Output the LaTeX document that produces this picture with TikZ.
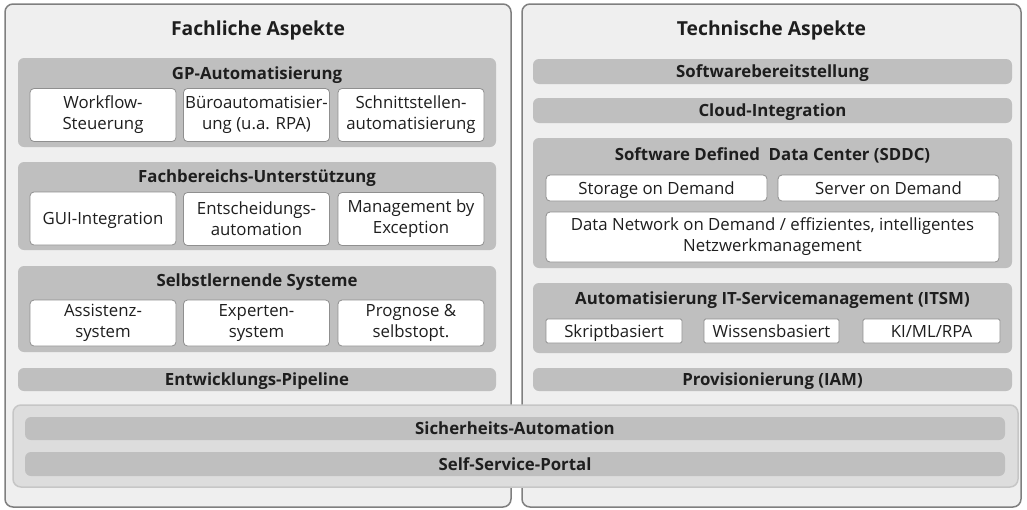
\documentclass[tikz,border=0pt]{standalone}
\usepackage{fontspec}
\setmainfont{Open Sans}
\usetikzlibrary{positioning}

\definecolor{panelbg}{HTML}{EFEFEF}
\definecolor{panelline}{HTML}{7F7F7F}
\definecolor{grpbg}{HTML}{BFBFBF}
\definecolor{itemline}{HTML}{8F8F8F}
\definecolor{commonbg}{HTML}{DDDDDD}
\definecolor{commonline}{HTML}{C6C6C6}
\definecolor{txt}{HTML}{1E1E1E}

\begin{document}
\begin{tikzpicture}[x=1pt,y=-1pt,text=txt,
    panel/.style={draw=panelline, line width=1.5pt, fill=panelbg, rounded corners=8pt, inner sep=0pt},
    grp/.style={fill=grpbg, rounded corners=6pt, inner sep=0pt},
    oneline/.style={text height=12pt, text depth=0pt},
    bar/.style={grp, oneline, font=\fontsize{16.8}{20}\selectfont\bfseries},
    head/.style={inner sep=0pt, font=\fontsize{16.8}{20}\selectfont\bfseries},
    title/.style={inner sep=0pt, font=\fontsize{19.3}{23}\selectfont\bfseries},
    item/.style={draw=itemline, line width=0.8pt, fill=white, rounded corners=4pt, inner sep=0pt,
                 align=center, font=\fontsize{16.8}{21}\selectfont}]
  \useasboundingbox (0,0) rectangle (1027,509);

  % two columns
  \node[panel, minimum width=506, minimum height=503] (left) at (258,255.5) {};
  \node[panel, minimum width=499, minimum height=503] (right) at (771.5,255.5) {};
  \node[title] (ltitle) at (258,30) {Fachliche Aspekte};
  \node[title] (rtitle) at (771.5,30) {Technische Aspekte};

  % Fachliche Aspekte
  \node[grp, minimum width=478, minimum height=89] (gp) at (257,102.5) {};
  \node[head] (gph) at (257,75) {GP-Automatisierung};
  \foreach \x/\n/\t in {103/wf/{Workflow-\\Steuerung}, 256.5/buero/{Büroautomatisier-\\ung (u.a. RPA)}, 411/schnitt/{Schnittstellen-\\automatisierung}}
    {\node[item, minimum width=146, minimum height=53] (\n) at (\x,115) {\t};}

  \node[grp, minimum width=478, minimum height=88] (fb) at (257,206) {};
  \node[head] (fbh) at (257,178) {Fachbereichs-Unterstützung};
  \node[item, oneline, minimum width=146, minimum height=53] (gui) at (103,218.5) {GUI-Integration};
  \foreach \x/\n/\t in {256.5/ents/{Entscheidungs-\\automation}, 411/mbe/{Management by\\Exception}}
    {\node[item, minimum width=146, minimum height=53] (\n) at (\x,219) {\t};}

  \node[grp, minimum width=478, minimum height=86] (sl) at (257,309) {};
  \node[head] (slh) at (257,282) {Selbstlernende Systeme};
  \foreach \x/\n/\t in {103/assi/{Assistenz-\\system}, 256.5/expe/{Experten-\\system}, 411/prog/{Prognose \&\\selbstopt.}}
    {\node[item, minimum width=146, minimum height=46] (\n) at (\x,323) {\t};}

  \node[bar, minimum width=478, minimum height=23] (pipe) at (257,379.5) {Entwicklungs-Pipeline};

  % Technische Aspekte
  \node[bar, minimum width=479, minimum height=25] (swb) at (772.5,71.5) {Softwarebereitstellung};
  \node[bar, minimum width=479, minimum height=25] (cloud) at (772.5,110.5) {Cloud-Integration};

  \node[grp, minimum width=479, minimum height=130] (sddc) at (772.5,203) {};
  \node[head] (sddch) at (772.5,155) {Software Defined\ \ Data Center (SDDC)};
  \node[item, oneline, minimum width=221, minimum height=26] (stor) at (656.5,188) {Storage on Demand};
  \node[item, oneline, minimum width=221, minimum height=26] (serv) at (888.5,188) {Server on Demand};
  \node[item, minimum width=453, minimum height=50] (dnet) at (772.5,237) {Data Network on Demand / effizientes, intelligentes\\Netzwerkmanagement};

  \node[grp, minimum width=479, minimum height=70] (itsm) at (772.5,318) {};
  \node[head] (itsmh) at (772.5,300) {Automatisierung IT-Servicemanagement (ITSM)};
  \foreach \x/\w/\n/\t in {614/136/skript/Skriptbasiert, 771.5/135/wissen/Wissensbasiert, 931.5/137/ki/{KI/ML/RPA}}
    {\node[item, oneline, rounded corners=1.5pt, minimum width=\w, minimum height=24] (\n) at (\x,331) {\t};}

  \node[bar, minimum width=479, minimum height=23] (prov) at (772.5,379.5) {Provisionierung (IAM)};

  % gemeinsame Querschnittsthemen
  \node[draw=commonline, line width=1.5pt, fill=commonbg, rounded corners=8pt, minimum width=1005, minimum height=82] (common) at (515.5,446) {};
  \node[bar, minimum width=980, minimum height=23] (sich) at (515,428.5) {Sicherheits-Automation};
  \node[bar, minimum width=980, minimum height=24] (self) at (515,464) {Self-Service-Portal};
\end{tikzpicture}
\end{document}
